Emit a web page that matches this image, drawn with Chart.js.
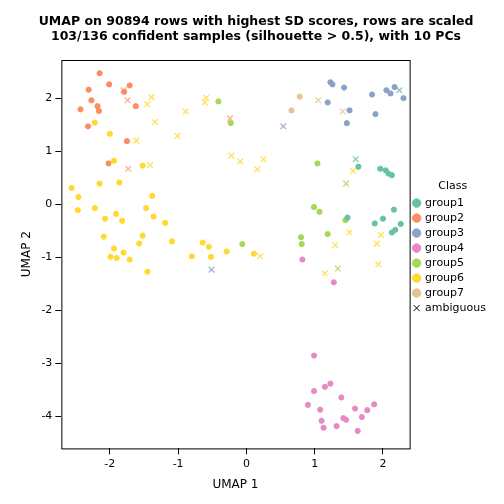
<!DOCTYPE html>
<html>
<head>
<script src="https://cdn.jsdelivr.net/npm/chart.js@4"></script>
<style>body{margin:0;background:#fff}</style>
</head>
<body>
<canvas id="plot" width="504" height="504"></canvas>
<script>
const group1 = [[1.64,0.71],[1.96,0.67],[2.04,0.64],[2.08,0.58],[2.13,0.55],[2.16,-0.10],[2.00,-0.27],[1.88,-0.36],[1.48,-0.25],[2.26,-0.37],[2.18,-0.48],[2.13,-0.53]];
const group2 = [[-2.15,2.47],[-2.01,2.26],[-1.71,2.24],[-2.31,2.16],[-1.79,2.12],[-2.27,1.96],[-2.18,1.85],[-2.16,1.76],[-2.43,1.79],[-1.62,1.85],[-2.32,1.47],[-1.75,1.19],[-2.02,0.77]];
const group3 = [[1.23,2.30],[1.26,2.26],[1.43,2.20],[1.19,1.92],[1.51,1.77],[1.47,1.53],[1.84,2.07],[1.89,1.70],[2.05,2.15],[2.11,2.09],[2.17,2.21],[2.30,2.00]];
const group4 = [[0.82,-1.04],[1.28,-1.47],[0.99,-2.85],[1.23,-3.38],[1.15,-3.44],[0.99,-3.52],[1.39,-3.64],[0.90,-3.78],[1.08,-3.87],[1.59,-3.85],[1.77,-3.88],[1.87,-3.77],[1.69,-4.01],[1.42,-4.03],[1.46,-4.06],[1.10,-4.08],[1.32,-4.18],[1.13,-4.21],[1.63,-4.27]];
const group5 = [[-0.41,1.94],[-0.23,1.53],[-0.06,-0.75],[1.04,0.77],[0.99,-0.05],[1.07,-0.14],[1.45,-0.30],[1.19,-0.56],[0.80,-0.62],[0.81,-0.75]];
const group6 = [[-2.22,1.54],[-2.00,1.33],[-1.94,0.82],[-1.52,0.73],[-2.15,0.39],[-1.86,0.41],[-2.56,0.31],[-2.46,0.14],[-1.38,0.16],[-2.47,-0.11],[-2.22,-0.07],[-1.91,-0.18],[-1.47,-0.07],[-2.07,-0.27],[-1.82,-0.31],[-1.36,-0.23],[-1.19,-0.35],[-2.09,-0.61],[-1.52,-0.59],[-1.57,-0.74],[-1.09,-0.70],[-1.94,-0.83],[-1.80,-0.91],[-1.99,-0.99],[-1.90,-1.01],[-1.71,-1.04],[-1.45,-1.27],[-0.80,-0.98],[-0.64,-0.72],[-0.55,-0.80],[-0.52,-0.99],[-0.29,-0.89],[0.11,-0.93]];
const group7 = [[0.78,2.03],[0.66,1.77]];
// ambiguous: x, y, nearest group
const ambiguous = [[-1.80,2.15,2],[-1.74,1.96,2],[-0.24,1.62,2],[-1.73,0.67,2],
  [-1.39,2.02,6],[-1.45,1.89,6],[-0.89,1.75,6],[-1.34,1.55,6],[-0.59,2.01,6],[-0.61,1.92,6],[-1.61,1.20,6],[-1.01,1.29,6],[-0.22,0.92,6],[-0.09,0.81,6],[0.16,0.66,6],[-1.41,0.74,6],[0.20,-0.98,6],[0.25,0.85,6],[1.56,0.63,6],[1.51,-0.53,6],[1.30,-0.77,6],[1.97,-0.58,6],[1.91,-0.74,6],[1.93,-1.13,6],[1.15,-1.30,6],
  [-0.51,-1.23,3],[0.54,1.47,3],[1.05,1.96,7],[1.41,1.75,7],[2.24,2.15,1],[1.60,0.85,1],[1.46,0.39,5],[1.34,-1.21,5]];
const groupNames = ["group1","group2","group3","group4","group5","group6","group7"];
const groupColors = ["#66C2A5","#FC8D62","#8DA0CB","#E78AC3","#A6D854","#FFD92F","#E5C494"];
const groupAlpha = ["rgba(102,194,165,0.8)","rgba(252,141,98,0.7)","rgba(141,160,203,0.8)","rgba(231,138,195,0.8)","rgba(166,216,84,0.8)","rgba(255,217,47,0.8)","rgba(229,196,148,0.8)"];

const groups = [group1, group2, group3, group4, group5, group6, group7];
const datasets = groups.map((g, i) => ({
  label: groupNames[i],
  data: g.map(p => ({x: p[0], y: p[1]})),
  backgroundColor: groupColors[i],
  borderColor: groupColors[i],
  pointRadius: 2.6,
  pointStyle: 'circle'
}));
datasets.push({
  label: "ambiguous",
  data: ambiguous.map(p => ({x: p[0], y: p[1]})),
  borderColor: ambiguous.map(p => groupAlpha[p[2] - 1]),
  backgroundColor: ambiguous.map(p => groupAlpha[p[2] - 1]),
  pointStyle: 'crossRot',
  pointRadius: 4,
  pointBorderWidth: 1.3
});

const boxPlugin = {
  id: 'box',
  afterDraw(chart) {
    const a = chart.chartArea, c = chart.ctx;
    c.save();
    c.strokeStyle = '#000';
    c.lineWidth = 1;
    c.strokeRect(a.left + 0.5, a.top + 0.5, a.right - a.left, a.bottom - a.top);
    c.restore();
  }
};

new Chart(document.getElementById('plot'), {
  type: 'scatter',
  data: { datasets },
  plugins: [boxPlugin],
  options: {
    responsive: false,
    animation: false,
    layout: { padding: { left: 16, right: 8, top: 2, bottom: 8 } },
    scales: {
      x: {
        min: -2.71, max: 2.39,
        afterBuildTicks: s => { s.ticks = [-2,-1,0,1,2].map(v => ({value: v})); },
        grid: { drawOnChartArea: false, color: '#000', tickLength: 6 },
        border: { display: false },
        ticks: { color: '#000', font: { family: 'DejaVu Sans', size: 11 } },
        title: { display: true, text: 'UMAP 1', color: '#000', font: { family: 'DejaVu Sans', size: 12 } }
      },
      y: {
        min: -4.6, max: 2.72,
        afterBuildTicks: s => { s.ticks = [-4,-3,-2,-1,0,1,2].map(v => ({value: v})); },
        grid: { drawOnChartArea: false, color: '#000', tickLength: 6 },
        border: { display: false },
        ticks: { color: '#000', font: { family: 'DejaVu Sans', size: 11 } },
        title: { display: true, text: 'UMAP 2', color: '#000', font: { family: 'DejaVu Sans', size: 12 } }
      }
    },
    plugins: {
      title: {
        display: true,
        text: ['UMAP on 90894 rows with highest SD scores, rows are scaled', '103/136 confident samples (silhouette > 0.5), with 10 PCs'],
        color: '#000',
        font: { family: 'DejaVu Sans', size: 12.5, weight: 'bold' },
        padding: { top: 12, bottom: 16 }
      },
      legend: {
        position: 'right',
        align: 'center',
        title: { display: true, text: 'Class', color: '#000', font: { family: 'DejaVu Sans', size: 11 } },
        labels: {
          usePointStyle: true,
          boxWidth: 6,
          boxHeight: 6,
          padding: 4,
          color: '#000',
          font: { family: 'DejaVu Sans', size: 11 },
          generateLabels: chart => chart.data.datasets.map((d, i) => ({
            text: d.label,
            fillStyle: i < 7 ? groupColors[i] : '#000',
            strokeStyle: i < 7 ? groupColors[i] : '#000',
            pointStyle: i < 7 ? 'circle' : 'crossRot',
            lineWidth: 1,
            datasetIndex: i
          }))
        }
      },
      tooltip: { enabled: false }
    }
  }
});
</script>
</body>
</html>
